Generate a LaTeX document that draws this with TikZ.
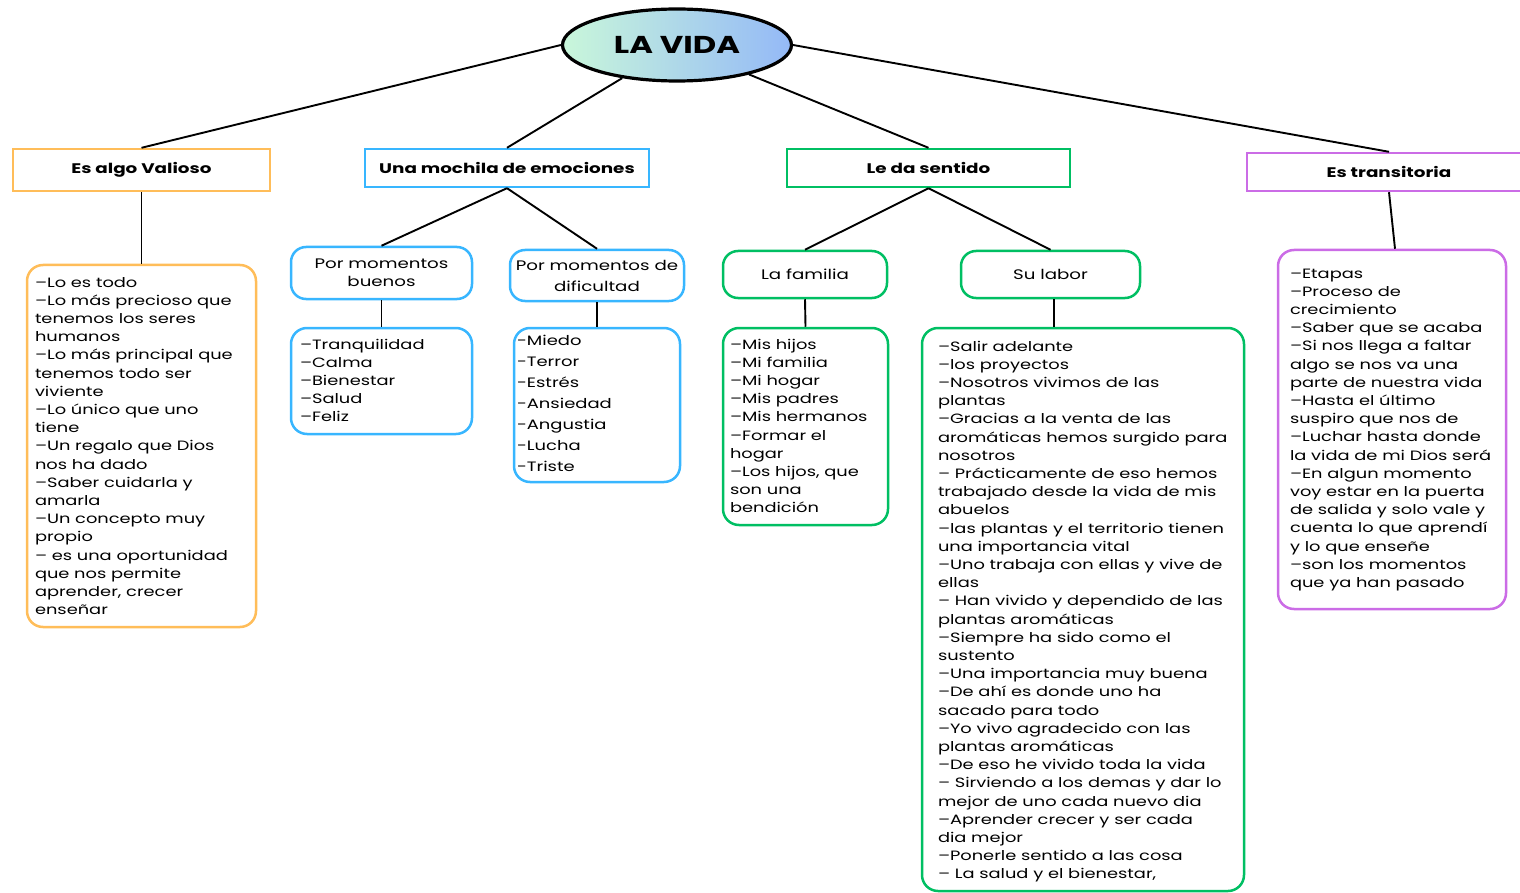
\documentclass[tikz,border=0pt]{standalone}
\usepackage{fontspec}
\setmainfont{Poppins}[FakeStretch=1.32]
\usetikzlibrary{shapes.geometric}
\definecolor{cor}{HTML}{FFBD59}
\definecolor{cbl}{HTML}{38B6FF}
\definecolor{cgr}{HTML}{00BF63}
\definecolor{cpu}{HTML}{CB6CE6}
\definecolor{cmint}{HTML}{C9F7DA}
\definecolor{csky}{HTML}{94B9F7}
\tikzset{
  conn/.style={draw=black, line width=1.9pt},
  hdr/.style={draw, rectangle, line width=2.4pt, fill=white, inner sep=0pt,
    font=\fontsize{13.9}{18}\selectfont\bfseries},
  sub/.style={draw, rectangle, rounded corners=15pt, line width=2.5pt, fill=white,
    align=center, inner sep=0pt, font=\fontsize{13.8}{18}\selectfont},
  lbox/.style={draw, rectangle, rounded corners=16pt, line width=2.5pt, fill=white,
    inner ysep=0pt, font=\fontsize{13.5}{18.2}\selectfont},
}
\begin{document}
\begin{tikzpicture}[x=1pt,y=-1pt]
\useasboundingbox (0,0) rectangle (1520,893);
% root
\node[ellipse, draw, line width=3.2pt, minimum width=229pt, minimum height=72pt,
  left color=cmint, right color=csky, inner sep=0pt,
  font=\fontsize{24.4}{25}\selectfont\bfseries] (vida) at (677,45) {LA VIDA};
% headers
\node[hdr, draw=cor, minimum width=257pt, minimum height=42pt] (val) at (141.5,170) {Es algo Valioso};
\node[hdr, draw=cbl, minimum width=284pt, minimum height=38pt] (moc) at (507,168) {Una mochila de emociones};
\node[hdr, draw=cgr, minimum width=283pt, minimum height=38pt] (sen) at (928.5,168) {Le da sentido};
\node[hdr, draw=cpu, minimum width=284pt, minimum height=38pt] (tra) at (1389,172) {Es transitoria};
% sub nodes
\node[sub, draw=cbl, minimum width=181pt, minimum height=52pt] (bue) at (381.5,273) {Por momentos\\buenos};
\node[sub, draw=cbl, minimum width=174pt, minimum height=51pt, font=\fontsize{13.8}{21}\selectfont] (dif) at (597,275.5) {Por momentos de\\dificultad};
\node[sub, draw=cgr, minimum width=164pt, minimum height=47pt] (fam) at (805,274.5) {La familia};
\node[sub, draw=cgr, minimum width=179pt, minimum height=47pt] (lab) at (1050.5,274.5) {Su labor};
% lists
\node[lbox, draw=cor, inner xsep=8pt] (lval) at (141.5,446) {\begin{minipage}[c][362pt][t]{213pt}\vspace*{9.3pt}\noindent\begin{tabular}[t]{@{}l@{}}
–Lo es todo\\
–Lo más precioso que\\
tenemos los seres\\
humanos\\
–Lo más principal que\\
tenemos todo ser\\
viviente\\
–Lo único que uno\\
tiene\\
–Un regalo que Dios\\
nos ha dado\\
–Saber cuidarla y\\
amarla\\
–Un concepto muy\\
propio\\
– es una oportunidad\\
que nos permite\\
aprender, crecer\\
enseñar
\end{tabular}\end{minipage}};
\node[lbox, draw=cbl, inner xsep=9pt] (lbue) at (381.5,381) {\begin{minipage}[c][106pt][t]{163pt}\vspace*{8.3pt}\noindent\begin{tabular}[t]{@{}l@{}}
–Tranquilidad\\
–Calma\\
–Bienestar\\
–Salud\\
–Feliz
\end{tabular}\end{minipage}};
\node[lbox, draw=cbl, inner xsep=3pt, font=\fontsize{13.6}{21}\selectfont] (ldif) at (597,405) {\begin{minipage}[c][154pt][t]{160pt}\vspace*{2.3pt}\noindent\begin{tabular}[t]{@{}l@{}}
-Miedo\\
-Terror\\
-Estrés\\
-Ansiedad\\
-Angustia\\
-Lucha\\
-Triste
\end{tabular}\end{minipage}};
\node[lbox, draw=cgr, inner xsep=7pt] (lfam) at (805.5,426.5) {\begin{minipage}[c][197pt][t]{151pt}\vspace*{8.3pt}\noindent\begin{tabular}[t]{@{}l@{}}
–Mis hijos\\
–Mi familia\\
–Mi hogar\\
–Mis padres\\
–Mis hermanos\\
–Formar el\\
hogar\\
–Los hijos, que\\
son una\\
bendición
\end{tabular}\end{minipage}};
\node[lbox, draw=cgr, inner xsep=16pt] (llab) at (1083,609.5) {\begin{minipage}[c][563pt][t]{290pt}\vspace*{10.3pt}\noindent\begin{tabular}[t]{@{}l@{}}
–Salir adelante\\
–los proyectos\\
–Nosotros vivimos de las\\
plantas\\
–Gracias a la venta de las\\
aromáticas hemos surgido para\\
nosotros\\
– Prácticamente de eso hemos\\
trabajado desde la vida de mis\\
abuelos\\
–las plantas y el territorio tienen\\
una importancia vital\\
–Uno trabaja con ellas y vive de\\
ellas\\
– Han vivido y dependido de las\\
plantas aromáticas\\
–Siempre ha sido como el\\
sustento\\
–Una importancia muy buena\\
–De ahí es donde uno ha\\
sacado para todo\\
–Yo vivo agradecido con las\\
plantas aromáticas\\
–De eso he vivido toda la vida\\
– Sirviendo a los demas y dar lo\\
mejor de uno cada nuevo dia\\
–Aprender crecer y ser cada\\
dia mejor\\
–Ponerle sentido a las cosa\\
– La salud y el bienestar,
\end{tabular}\end{minipage}};
\node[lbox, draw=cpu, inner xsep=12pt] (ltra) at (1392,429.5) {\begin{minipage}[c][359pt][t]{204pt}\vspace*{15.3pt}\noindent\begin{tabular}[t]{@{}l@{}}
–Etapas\\
–Proceso de\\
crecimiento\\
–Saber que se acaba\\
–Si nos llega a faltar\\
algo se nos va una\\
parte de nuestra vida\\
–Hasta el último\\
suspiro que nos de\\
–Luchar hasta donde\\
la vida de mi Dios será\\
–En algun momento\\
voy estar en la puerta\\
de salida y solo vale y\\
cuenta lo que aprendí\\
y lo que enseñe\\
–son los momentos\\
que ya han pasado
\end{tabular}\end{minipage}};
% connectors
\draw[conn] (vida.west) -- (val.north);
\draw[conn] (vida) -- (moc.north);
\draw[conn] (vida) -- (sen.north);
\draw[conn] (vida.east) -- (tra.north);
\draw[conn] (val.south) -- (lval.north);
\draw[conn] (moc.south) -- (bue.north);
\draw[conn] (moc.south) -- (dif.north);
\draw[conn] (bue.south) -- (lbue.north);
\draw[conn] (dif.south) -- (ldif.north);
\draw[conn] (sen.south) -- (fam.north);
\draw[conn] (sen.south) -- (lab.north);
\draw[conn] (fam.south) -- (lfam.north);
\draw[conn] ([xshift=3.5pt]lab.south) -- ([xshift=3.5pt]lab.south |- llab.north);
\draw[conn] (tra.south) -- ([xshift=3pt]ltra.north);
\end{tikzpicture}
\end{document}
